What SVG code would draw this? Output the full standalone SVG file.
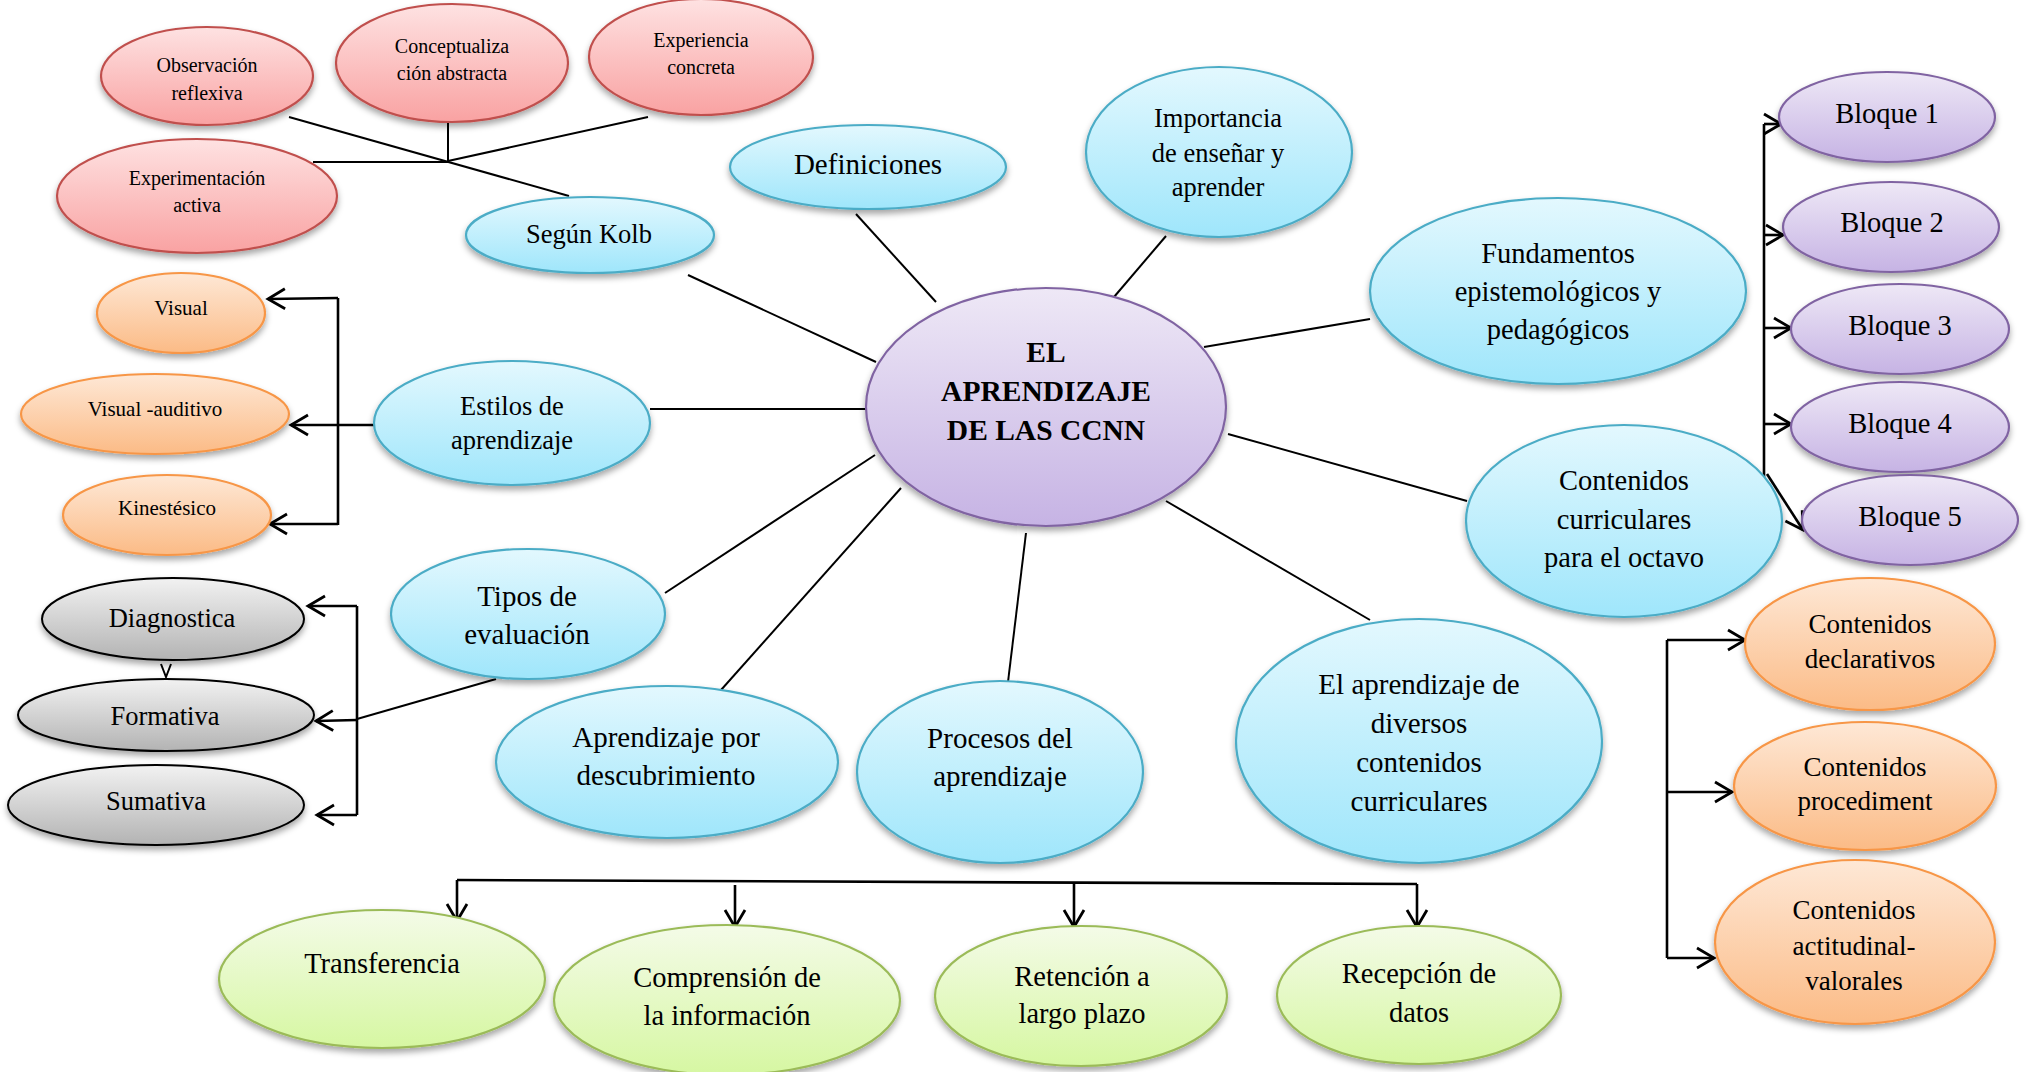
<svg xmlns="http://www.w3.org/2000/svg" width="2036" height="1072" viewBox="0 0 2036 1072">
<defs>
<linearGradient id="gBlue" x1="0" y1="0" x2="0" y2="1"><stop offset="0" stop-color="#e3f8fe"/><stop offset="1" stop-color="#9fe6fb"/></linearGradient>
<linearGradient id="gRed" x1="0" y1="0" x2="0" y2="1"><stop offset="0" stop-color="#fee2e2"/><stop offset="1" stop-color="#f9a2a2"/></linearGradient>
<linearGradient id="gPurple" x1="0" y1="0" x2="0" y2="1"><stop offset="0" stop-color="#eee8f6"/><stop offset="1" stop-color="#c6b3e4"/></linearGradient>
<linearGradient id="gOrange" x1="0" y1="0" x2="0" y2="1"><stop offset="0" stop-color="#fee8d6"/><stop offset="1" stop-color="#fbbb86"/></linearGradient>
<linearGradient id="gGreen" x1="0" y1="0" x2="0" y2="1"><stop offset="0" stop-color="#f4fbe8"/><stop offset="1" stop-color="#d6f7a2"/></linearGradient>
<linearGradient id="gGray" x1="0" y1="0" x2="0" y2="1"><stop offset="0" stop-color="#f2f2f2"/><stop offset="1" stop-color="#b3b3b3"/></linearGradient>
<filter id="sh" x="-10%" y="-10%" width="120%" height="130%">
<feGaussianBlur in="SourceAlpha" stdDeviation="3"/>
<feOffset dy="4" result="b"/>
<feFlood flood-color="#000" flood-opacity="0.35"/>
<feComposite in2="b" operator="in"/>
<feMerge><feMergeNode/><feMergeNode in="SourceGraphic"/></feMerge>
</filter>
<marker id="ar" markerUnits="userSpaceOnUse" markerWidth="22" markerHeight="24" viewBox="0 0 22 24" refX="19" refY="12" orient="auto">
<path d="M2,2 L19,12 L2,22" fill="none" stroke="#000" stroke-width="2.8"/>
</marker>
</defs>
<style>
.blue{fill:url(#gBlue);stroke:#4bacc6;stroke-width:2.2;filter:url(#sh)}
.red{fill:url(#gRed);stroke:#c0504d;stroke-width:2.2;filter:url(#sh)}
.purple{fill:url(#gPurple);stroke:#8064a2;stroke-width:2.2;filter:url(#sh)}
.orange{fill:url(#gOrange);stroke:#f79646;stroke-width:2.2;filter:url(#sh)}
.green{fill:url(#gGreen);stroke:#9bbb59;stroke-width:2.2;filter:url(#sh)}
.gray{fill:url(#gGray);stroke:#000;stroke-width:2;filter:url(#sh)}
text{font-family:"Liberation Serif","Times New Roman",serif;fill:#000;text-anchor:middle}
.t20{font-size:20px}
.t21{font-size:21px}
.t26{font-size:26.5px}
.t27{font-size:27px}
.t28{font-size:28.5px}
.t29{font-size:29px}
.tb{font-size:29.5px;font-weight:bold}
.ln{stroke:#000;stroke-width:2;fill:none}
.lt{stroke:#000;stroke-width:2.6;fill:none}
.arw{stroke:#000;stroke-width:2.6;fill:none;marker-end:url(#ar)}
</style>

<g id="connectors">
<!-- Kolb -->
<line class="ln" x1="289" y1="117" x2="569" y2="196"/>
<line class="ln" x1="648" y1="117" x2="448" y2="161"/>
<line class="ln" x1="448" y1="123" x2="448" y2="161"/>
<line class="ln" x1="313" y1="162" x2="448" y2="162"/>
<!-- central spokes -->
<line class="ln" x1="688" y1="275" x2="876" y2="362"/>
<line class="ln" x1="856" y1="214" x2="936" y2="302"/>
<line class="ln" x1="1166" y1="236" x2="1114" y2="297"/>
<line class="ln" x1="1204" y1="347" x2="1370" y2="319"/>
<line class="ln" x1="650" y1="409" x2="866" y2="409"/>
<line class="ln" x1="1228" y1="434" x2="1467" y2="501"/>
<line class="ln" x1="665" y1="593" x2="875" y2="455"/>
<line class="ln" x1="713" y1="699" x2="901" y2="488"/>
<line class="ln" x1="1026" y1="533" x2="1008" y2="682"/>
<line class="ln" x1="1166" y1="501" x2="1370" y2="620"/>
<!-- Estilos -->
<line class="lt" x1="374" y1="425" x2="338" y2="425"/>
<polyline class="lt" points="338,298 338,525"/>
<polyline class="arw" points="338,298 268,299"/>
<polyline class="arw" points="338,425 291,425"/>
<polyline class="arw" points="338,524 270,524"/>
<!-- Evaluacion -->
<line class="ln" x1="496" y1="679" x2="357" y2="719"/>
<polyline class="lt" points="357,606 357,815"/>
<polyline class="arw" points="357,606 308,606"/>
<polyline class="arw" points="357,720 316,721"/>
<polyline class="arw" points="357,815 317,815"/>
<path class="ln" d="M161,664 L166,677 L171,664"/>
<!-- Bloques -->
<polyline class="lt" points="1764,124 1764,486"/>
<polyline class="arw" points="1764,124 1781,124"/>
<polyline class="arw" points="1764,235 1783,235"/>
<polyline class="arw" points="1764,328 1791,328"/>
<polyline class="arw" points="1764,424 1791,424"/>
<polyline class="arw" points="1767,474 1803,530"/>
<!-- Contenidos right -->
<polyline class="lt" points="1667,640 1667,958"/>
<polyline class="arw" points="1667,640 1745,640"/>
<polyline class="arw" points="1668,792 1732,792"/>
<polyline class="arw" points="1667,958 1714,958"/>
<!-- Green -->
<polyline class="lt" points="457,880 1417,884"/>
<polyline class="arw" points="457,880 457,921"/>
<polyline class="arw" points="735,885 735,927"/>
<polyline class="arw" points="1074,883 1074,927"/>
<polyline class="arw" points="1417,884 1417,927"/>
</g>

<g id="n-observacion"><ellipse class="red" cx="207" cy="76" rx="106" ry="49"/><text class="t20" x="207" y="72">Observación</text><text class="t20" x="207" y="100">reflexiva</text></g>
<g id="n-conceptualizacion"><ellipse class="red" cx="452" cy="63" rx="116" ry="59"/><text class="t20" x="452" y="53">Conceptualiza</text><text class="t20" x="452" y="80">ción abstracta</text></g>
<g id="n-experiencia"><ellipse class="red" cx="701" cy="57" rx="112" ry="58"/><text class="t20" x="701" y="47">Experiencia</text><text class="t20" x="701" y="74">concreta</text></g>
<g id="n-experimentacion"><ellipse class="red" cx="197" cy="196" rx="140" ry="57"/><text class="t20" x="197" y="185">Experimentación</text><text class="t20" x="197" y="212">activa</text></g>

<g id="n-kolb"><ellipse class="blue" cx="590" cy="235" rx="124" ry="38"/><text class="t26" x="589" y="243">Según Kolb</text></g>
<g id="n-definiciones"><ellipse class="blue" cx="868" cy="167" rx="138" ry="42"/><text class="t29" x="868" y="174">Definiciones</text></g>
<g id="n-importancia"><ellipse class="blue" cx="1219" cy="152" rx="133" ry="85"/><text class="t26" x="1218" y="127">Importancia</text><text class="t26" x="1218" y="162">de enseñar y</text><text class="t26" x="1218" y="196">aprender</text></g>
<g id="n-central"><ellipse class="purple" cx="1046" cy="407" rx="180" ry="119"/><text class="tb" x="1046" y="362">EL</text><text class="tb" x="1046" y="401">APRENDIZAJE</text><text class="tb" x="1046" y="440">DE LAS CCNN</text></g>
<g id="n-fundamentos"><ellipse class="blue" cx="1558" cy="291" rx="188" ry="93"/><text class="t28" x="1558" y="263">Fundamentos</text><text class="t28" x="1558" y="301">epistemológicos y</text><text class="t28" x="1558" y="339">pedagógicos</text></g>
<g id="n-contenidos-curr"><ellipse class="blue" cx="1624" cy="521" rx="158" ry="96"/><text class="t28" x="1624" y="490">Contenidos</text><text class="t28" x="1624" y="529">curriculares</text><text class="t28" x="1624" y="567">para el octavo</text></g>
<g id="n-estilos"><ellipse class="blue" cx="512" cy="423" rx="138" ry="62"/><text class="t26" x="512" y="415">Estilos de</text><text class="t26" x="512" y="449">aprendizaje</text></g>
<g id="n-tipos"><ellipse class="blue" cx="528" cy="614" rx="137" ry="65"/><text class="t29" x="527" y="606">Tipos de</text><text class="t29" x="527" y="644">evaluación</text></g>
<g id="n-descubrimiento"><ellipse class="blue" cx="667" cy="762" rx="171" ry="76"/><text class="t29" x="666" y="747">Aprendizaje por</text><text class="t29" x="666" y="785">descubrimiento</text></g>
<g id="n-procesos"><ellipse class="blue" cx="1000" cy="772" rx="143" ry="91"/><text class="t29" x="1000" y="748">Procesos del</text><text class="t29" x="1000" y="786">aprendizaje</text></g>
<g id="n-diversos"><ellipse class="blue" cx="1419" cy="741" rx="183" ry="122"/><text class="t29" x="1419" y="694">El aprendizaje de</text><text class="t29" x="1419" y="733">diversos</text><text class="t29" x="1419" y="772">contenidos</text><text class="t29" x="1419" y="811">curriculares</text></g>

<g id="n-bloque1"><ellipse class="purple" cx="1887" cy="117" rx="108" ry="45"/><text class="t28" x="1887" y="123">Bloque 1</text></g>
<g id="n-bloque2"><ellipse class="purple" cx="1891" cy="227" rx="108" ry="45"/><text class="t28" x="1892" y="232">Bloque 2</text></g>
<g id="n-bloque3"><ellipse class="purple" cx="1900" cy="329" rx="109" ry="45"/><text class="t28" x="1900" y="335">Bloque 3</text></g>
<g id="n-bloque4"><ellipse class="purple" cx="1900" cy="427" rx="109" ry="45"/><text class="t28" x="1900" y="433">Bloque 4</text></g>
<g id="n-bloque5"><ellipse class="purple" cx="1910" cy="520" rx="108" ry="45"/><text class="t28" x="1910" y="526">Bloque 5</text></g>

<g id="n-visual"><ellipse class="orange" cx="181" cy="313" rx="84" ry="40"/><text class="t21" x="181" y="315">Visual</text></g>
<g id="n-visual-auditivo"><ellipse class="orange" cx="155" cy="414" rx="134" ry="40"/><text class="t21" x="155" y="416">Visual -auditivo</text></g>
<g id="n-kinestesico"><ellipse class="orange" cx="167" cy="515" rx="104" ry="40"/><text class="t21" x="167" y="515">Kinestésico</text></g>

<g id="n-diagnostica"><ellipse class="gray" cx="173" cy="619" rx="131" ry="41"/><text class="t26" x="172" y="627">Diagnostica</text></g>
<g id="n-formativa"><ellipse class="gray" cx="166" cy="715" rx="148" ry="36"/><text class="t26" x="165" y="725">Formativa</text></g>
<g id="n-sumativa"><ellipse class="gray" cx="156" cy="805" rx="148" ry="40"/><text class="t26" x="156" y="810">Sumativa</text></g>

<g id="n-transferencia"><ellipse class="green" cx="382" cy="979" rx="163" ry="69"/><text class="t28" x="382" y="973">Transferencia</text></g>
<g id="n-comprension"><ellipse class="green" cx="727" cy="1000" rx="173" ry="75"/><text class="t28" x="727" y="987">Comprensión de</text><text class="t28" x="727" y="1025">la información</text></g>
<g id="n-retencion"><ellipse class="green" cx="1081" cy="996" rx="146" ry="70"/><text class="t28" x="1082" y="986">Retención a</text><text class="t28" x="1082" y="1023">largo plazo</text></g>
<g id="n-recepcion"><ellipse class="green" cx="1419" cy="995" rx="142" ry="69"/><text class="t28" x="1419" y="983">Recepción de</text><text class="t28" x="1419" y="1022">datos</text></g>

<g id="n-declarativos"><ellipse class="orange" cx="1870" cy="644" rx="125" ry="66"/><text class="t27" x="1870" y="633">Contenidos</text><text class="t27" x="1870" y="668">declarativos</text></g>
<g id="n-procediment"><ellipse class="orange" cx="1865" cy="786" rx="131" ry="64"/><text class="t27" x="1865" y="776">Contenidos</text><text class="t27" x="1865" y="810">procediment</text></g>
<g id="n-actitudinal"><ellipse class="orange" cx="1855" cy="942" rx="140" ry="82"/><text class="t27" x="1854" y="919">Contenidos</text><text class="t27" x="1854" y="955">actitudinal-</text><text class="t27" x="1854" y="990">valorales</text></g>
</svg>
